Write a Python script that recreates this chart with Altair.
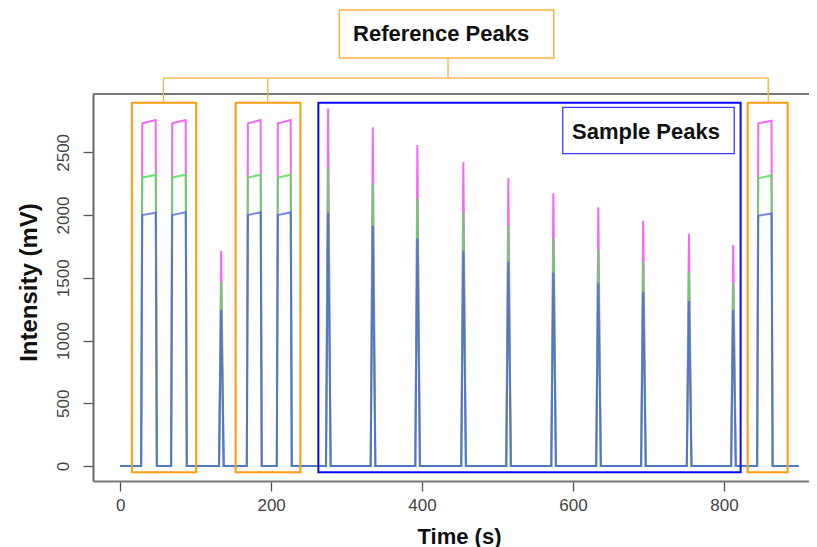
import altair as alt
import pandas as pd

# ---------------- data ----------------
# Reference (flat-topped) peaks: start / end time (s), top level at left and right end (mV)
ref_start = [27.8, 67.5, 167.8, 207.5, 844.0]
ref_end = [48.6, 88.3, 187.6, 227.4, 864.5]
ref_blue_left = [2000, 2000, 2000, 2000, 1995]
ref_blue_right = [2019, 2022, 2022, 2022, 2013]
ref_green_left = [2300, 2300, 2300, 2300, 2293]
ref_green_right = [2319, 2322, 2322, 2322, 2317]
ref_magenta_left = [2731, 2731, 2731, 2731, 2731]
ref_magenta_right = [2757, 2757, 2757, 2757, 2752]

# Sharp peaks: apex time (s) and apex height (mV) of each trace
sample_t = [133.8, 275.5, 334.7, 393.8, 454.7, 514.3, 574.0, 633.5, 693.0, 753.6, 812.3]
sample_blue = [1243, 2019, 1913, 1815, 1716, 1628, 1541, 1461, 1384, 1315, 1243]
sample_green = [1469, 2380, 2253, 2133, 2022, 1913, 1815, 1721, 1628, 1544, 1461]
sample_magenta = [1713, 2850, 2699, 2558, 2420, 2293, 2173, 2062, 1955, 1854, 1761]

run_start = 0
run_end = 899

x_ticks = [0, 200, 400, 600, 800]
y_ticks = [0, 500, 1000, 1500, 2000, 2500]

# ---------------- trace construction ----------------
RISE = 1.5
SHARP_L, SHARP_R = 2.8, 3.4


def trace(ref_l, ref_r, samp):
    events = []
    for s, e, hl, hr in zip(ref_start, ref_end, ref_l, ref_r):
        events.append([(s, 0), (s + RISE, hl), (e - RISE, hr), (e, 0)])
    for t, h in zip(sample_t, samp):
        events.append([(t - SHARP_L, 0), (t, h), (t + SHARP_R, 0)])
    events.sort(key=lambda ev: ev[0][0])
    pts = [(run_start, 0)]
    for ev in events:
        pts.extend(ev)
    pts.append((run_end, 0))
    df = pd.DataFrame(pts, columns=["t", "v"])
    df["order"] = range(len(df))
    return df


df_blue = trace(ref_blue_left, ref_blue_right, sample_blue)
df_green = trace(ref_green_left, ref_green_right, sample_green)
df_magenta = trace(ref_magenta_left, ref_magenta_right, sample_magenta)

# ---------------- annotation layout (data coordinates) ----------------
ref_boxes = pd.DataFrame({"t": [15.5, 153.0, 831.4], "t2": [100.7, 238.8, 884.4],
                          "v": [-50, -50, -50], "v2": [2895, 2895, 2895]})
sample_box = pd.DataFrame({"t": [262.6], "t2": [822.1], "v": [-50], "v2": [2895]})
sample_label_box = pd.DataFrame({"t": [586.4], "t2": [813.6], "v": [2490], "v2": [2859]})
sample_label = pd.DataFrame({"t": [696.7], "v": [2666], "label": ["Sample Peaks"]})
top_label_box = pd.DataFrame({"t": [290.4], "t2": [574.5], "v": [3252], "v2": [3634]})
top_label = pd.DataFrame({"t": [425.2], "v": [3443], "label": ["Reference Peaks"]})
conn_h = pd.DataFrame({"t": [57.4], "t2": [858.7], "v": [3092]})
conn_v = pd.DataFrame({"t": [57.4, 195.6, 858.7, 434.4], "v": [2895, 2895, 2895, 3092],
                       "v2": [3092, 3092, 3092, 3252]})

W, H = 716, 387
xs = alt.Scale(domain=[-36, 912.7], nice=False, zero=False)
ys = alt.Scale(domain=[-119.5, 2965], nice=False, zero=False)

FONT = "Liberation Sans"
xaxis = alt.Axis(title="Time (s)", values=x_ticks, format="d", grid=False, tickSize=10,
                 tickColor="#555", tickWidth=1.3, domainColor="#777", domainWidth=2,
                 labelFontSize=17, labelColor="#444", labelFont=FONT, labelPadding=6,
                 titleFont=FONT, titleFontSize=22, titleFontWeight="bold", titleColor="#111",
                 titleX=366, titleY=55, titleBaseline="middle", titleAlign="center")
yaxis = alt.Axis(title="Intensity (mV)", values=y_ticks, format="d", grid=False, tickSize=10,
                 tickColor="#555", tickWidth=1.3, domainColor="#666", domainWidth=2,
                 labelFontSize=17, labelColor="#444", labelFont=FONT, labelAngle=-90,
                 labelAlign="center", labelBaseline="bottom", labelPadding=11,
                 titleFont=FONT, titleFontSize=24, titleFontWeight="bold", titleColor="#111",
                 titleX=-64, titleY=188, titleAlign="center", titleBaseline="middle",
                 titleAngle=270)

X = alt.X("t:Q", scale=xs, axis=xaxis)
Y = alt.Y("v:Q", scale=ys, axis=yaxis)


def line(df, color, op, w):
    return alt.Chart(df).mark_line(color=color, strokeWidth=w, opacity=op).encode(
        x=X, y=Y, order="order:Q")


l_mag = line(df_magenta, "#f24ef2", 0.85, 2.0)
l_grn = line(df_green, "#55e055", 0.85, 2.0)
l_blu = line(df_blue, "#4257e6", 0.7, 2.0)

boxes_o = alt.Chart(ref_boxes).mark_rect(fill="transparent", stroke="#ff9a10", strokeWidth=2).encode(
    x=X, x2="t2:Q", y=Y, y2="v2:Q")
box_b = alt.Chart(sample_box).mark_rect(fill="transparent", stroke="#0a0aff", strokeWidth=2).encode(
    x=X, x2="t2:Q", y=Y, y2="v2:Q")
box_sl = alt.Chart(sample_label_box).mark_rect(fill="white", stroke="#3a3aff", strokeWidth=1.3).encode(
    x=X, x2="t2:Q", y=Y, y2="v2:Q")
txt_s = alt.Chart(sample_label).mark_text(font=FONT, fontSize=22, fontWeight="bold", color="#111",
                                          align="center", baseline="middle").encode(x=X, y=Y, text="label:N")
box_tl = alt.Chart(top_label_box).mark_rect(fill="white", stroke="#f7b040", strokeWidth=1.5).encode(
    x=X, x2="t2:Q", y=Y, y2="v2:Q")
txt_t = alt.Chart(top_label).mark_text(font=FONT, fontSize=22, fontWeight="bold", color="#111",
                                       align="center", baseline="middle").encode(x=X, y=Y, text="label:N")
c_h = alt.Chart(conn_h).mark_rule(color="#f7b040", strokeWidth=1.3).encode(x=X, x2="t2:Q", y=Y)
c_v = alt.Chart(conn_v).mark_rule(color="#f7b040", strokeWidth=1.3).encode(x=X, y=Y, y2="v2:Q")

top_frame = alt.Chart(pd.DataFrame({"a": [0]})).mark_rule(color="#777", strokeWidth=2).encode(
    x=alt.value(0), x2=alt.value(W), y=alt.value(0))

chart = alt.layer(
    top_frame, l_mag, l_grn, l_blu, boxes_o, box_b, box_sl, txt_s, c_h, c_v, box_tl, txt_t
).properties(
    width=W, height=H,
    autosize=alt.AutoSizeParams(type="none"),
    padding={"left": 85, "top": 86, "right": 0, "bottom": 66},
    background="white",
).configure_view(stroke=None)

chart.save("out.html", embed_options={"renderer": "svg", "actions": False})
